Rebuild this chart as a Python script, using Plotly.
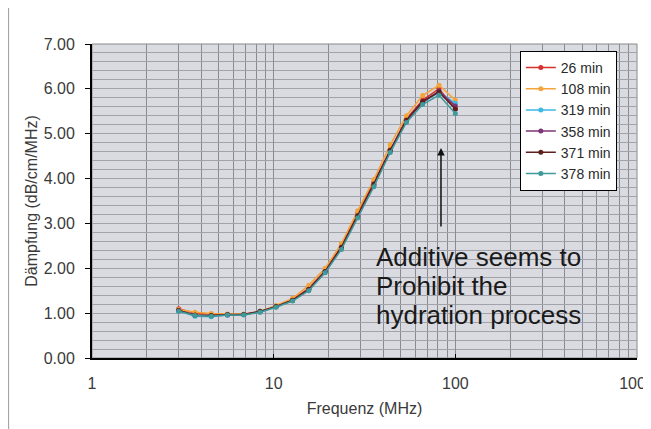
import plotly.graph_objects as go

freq = [3.0, 3.69, 4.53, 5.57, 6.85, 8.41, 10.3, 12.7, 15.6, 19.2, 23.6, 29.0, 35.6, 43.8, 53.8, 66.1, 81.3, 100.0]

series_names = ["26 min", "108 min", "319 min", "358 min", "371 min", "378 min"]
d26 = [1.10, 1.00, 0.98, 0.97, 0.97, 1.03, 1.15, 1.30, 1.55, 1.95, 2.50, 3.22, 3.92, 4.65, 5.33, 5.75, 6.00, 5.55]
d108 = [1.08, 1.02, 0.99, 0.98, 0.98, 1.04, 1.17, 1.33, 1.62, 2.00, 2.55, 3.28, 3.98, 4.75, 5.40, 5.85, 6.08, 5.75]
d319 = [1.05, 0.93, 0.92, 0.96, 0.97, 1.03, 1.14, 1.28, 1.52, 1.92, 2.45, 3.15, 3.85, 4.60, 5.28, 5.70, 5.92, 5.68]
d358 = [1.06, 0.95, 0.94, 0.96, 0.97, 1.03, 1.14, 1.28, 1.52, 1.92, 2.45, 3.15, 3.85, 4.62, 5.30, 5.70, 5.95, 5.62]
d371 = [1.06, 0.96, 0.95, 0.97, 0.97, 1.04, 1.15, 1.29, 1.53, 1.93, 2.47, 3.17, 3.88, 4.63, 5.30, 5.72, 5.93, 5.55]
d378 = [1.04, 0.95, 0.93, 0.96, 0.96, 1.02, 1.13, 1.27, 1.50, 1.90, 2.42, 3.12, 3.82, 4.58, 5.25, 5.65, 5.86, 5.45]
series_values = [d26, d108, d319, d358, d371, d378]
colors = ["#d6322d", "#f5a43a", "#3db9e6", "#7e3577", "#5e1f1f", "#3f9a9c"]

y_ticks = [0, 1, 2, 3, 4, 5, 6, 7]
y_ticktext = ["0.00", "1.00", "2.00", "3.00", "4.00", "5.00", "6.00", "7.00"]
x_ticks = [1, 10, 100, 1000]
x_ticktext = ["1", "10", "100", "1000"]
x_minor = [2, 3, 4, 5, 6, 7, 8, 9, 20, 30, 40, 50, 60, 70, 80, 90, 200, 300, 400, 500, 600, 700, 800, 900]

note_lines = ["Additive seems to", "Prohibit the", "hydration process"]
note_y = [2.25, 1.605, 0.96]

font_family = "Liberation Sans, Arial, sans-serif"

fig = go.Figure()
for name, vals, c in zip(series_names, series_values, colors):
    fig.add_trace(go.Scatter(
        x=freq, y=vals, name=name, mode="lines+markers",
        line=dict(color=c, width=1.5),
        marker=dict(color=c, size=5, symbol="circle"),
    ))

fig.update_layout(
    width=643, height=421,
    margin=dict(l=84, r=14, t=36, b=71, autoexpand=False),
    paper_bgcolor="white",
    plot_bgcolor="#dadbe0",
    font=dict(family=font_family, size=16, color="#3a3a3a"),
    showlegend=True,
    legend=dict(
        x=0.785, y=0.978, xanchor="left", yanchor="top",
        bgcolor="white", bordercolor="black", borderwidth=1,
        font=dict(size=14, color="#2a2a2a"),
        tracegroupgap=0, itemwidth=30,
    ),
    xaxis=dict(
        type="log", range=[0, 3], automargin=False,
        tickvals=x_ticks, ticktext=x_ticktext,
        ticks="inside", ticklen=4, tickcolor="black",
        ticklabelstandoff=10, ticklabeloverflow="allow",
        showline=True, linecolor="black", linewidth=2,
        showgrid=True, gridcolor="#8a8a92", gridwidth=1,
        minor=dict(tickvals=x_minor, showgrid=True, gridcolor="#8a8a92", gridwidth=1, ticks=""),
        title=dict(text="Frequenz (MHz)", font=dict(size=16, color="#3a3a3a"), standoff=12),
        tickfont=dict(size=16, color="#3a3a3a"),
        zeroline=False,
    ),
    yaxis=dict(
        range=[0, 7], automargin=False,
        tickvals=y_ticks, ticktext=y_ticktext,
        ticks="outside", ticklen=5, tickcolor="black",
        ticklabelstandoff=7,
        showline=True, linecolor="black", linewidth=2,
        showgrid=True, gridcolor="#a2a2aa", gridwidth=1,
        minor=dict(dtick=0.2, showgrid=True, gridcolor="#a2a2aa", gridwidth=1, ticks=""),
        title=dict(text="Dämpfung (dB/cm/MHz)", font=dict(size=16, color="#3a3a3a"), standoff=2),
        tickfont=dict(size=16, color="#3a3a3a"),
        zeroline=False,
    ),
)

# plot-area border (top/right) and outer chart frame
fig.add_shape(type="rect", xref="paper", yref="paper", x0=0, x1=1, y0=0, y1=1,
              line=dict(color="#8a8a8a", width=1), fillcolor="rgba(0,0,0,0)", layer="below")
fig.add_shape(type="rect", xref="paper", yref="paper", x0=-0.153, x1=1.1, y0=-0.4, y1=1.117,
              line=dict(color="#9a9a9a", width=1), fillcolor="rgba(0,0,0,0)", layer="above")

# arrow
fig.add_annotation(x=1.921, y=4.68, xref="x", yref="y", text="", showarrow=True,
                   ax=0, ay=80, arrowhead=2, arrowsize=1, arrowwidth=1.5, arrowcolor="#111111")
# note text
for line_text, yv in zip(note_lines, note_y):
    fig.add_annotation(x=1.552, y=yv, xref="x", yref="y", xanchor="left", yanchor="middle",
                       text=line_text, align="left", showarrow=False,
                       font=dict(size=26, color="#1a1a1a", family=font_family))

fig.write_html("out.html")
